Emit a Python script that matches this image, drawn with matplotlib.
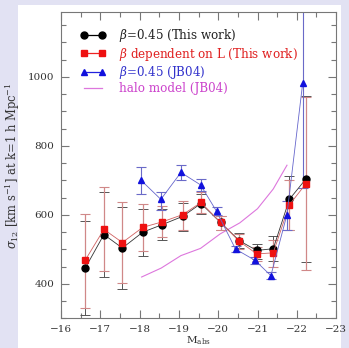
import matplotlib
matplotlib.use('Agg')
import matplotlib.pyplot as plt
from matplotlib.patches import Rectangle
from matplotlib.ticker import MultipleLocator

plt.rcParams['font.family'] = ['DejaVu Serif']
plt.rcParams['mathtext.fontset'] = 'dejavuserif'
plt.rcParams['axes.unicode_minus'] = True

# beta=0.45 (This work)
mag_bk = [-16.61, -17.09, -17.56, -18.08, -18.58, -19.10, -19.56, -20.06, -20.54, -20.98, -21.40, -21.81, -22.23]
sig_bk = [445, 543, 504, 550, 572, 596, 633, 578, 525, 497, 502, 645, 704]
up_bk = [582, 665, 623, 618, 617, 635, 662, 597, 548, 516, 540, 713, 945]
lo_bk = [310, 420, 385, 481, 527, 552, 602, 555, 504, 473, 465, 557, 463]

# beta dependent on L (This work)
sig_rd = [468, 558, 520, 564, 580, 601, 636, 578, 523, 487, 490, 629, 690]
up_rd = [604, 680, 638, 633, 625, 640, 665, 597, 546, 508, 528, 700, 943]
lo_rd = [331, 438, 403, 496, 535, 557, 605, 555, 502, 466, 448, 555, 439]

# beta=0.45 (JB04)
mag_bl = [-18.03, -18.54, -19.05, -19.55, -19.96, -20.44, -20.94, -21.34, -21.75, -22.15]
sig_bl = [701, 645, 723, 687, 610, 501, 468, 424, 601, 982]
up_bl = [740, 667, 745, 704, 623, 509, 477, 434, 640, 1400]
lo_bl = [660, 615, 700, 670, 601, 493, 459, 414, 557, 678]

# halo model (JB04)
mag_halo = [-18.05, -18.55, -19.05, -19.55, -20.05, -20.55, -21.0, -21.4, -21.75]
sig_halo = [420, 446, 482, 503, 545, 577, 618, 675, 744]

fig = plt.figure(figsize=(3.49, 3.48), dpi=100, facecolor='#e2e2f3')
fig.patches.append(Rectangle((0.052, 0.0), 0.925, 0.986, transform=fig.transFigure,
                             facecolor='white', edgecolor='none', zorder=-10))
ax = fig.add_axes([0.175, 0.085, 0.788, 0.8805])
ax.set_zorder(1)

def yerr(s, up, lo):
    return [[v - l for v, l in zip(s, lo)], [u - v for v, u in zip(s, up)]]

l4, = ax.plot(mag_halo, sig_halo, color='#dd77dd', lw=0.8, zorder=1)

ax.errorbar(mag_bk, sig_bk, yerr=yerr(sig_bk, up_bk, lo_bk), fmt='none',
            ecolor='#555555', elinewidth=0.7, capsize=3.5, capthick=0.7, zorder=2)
ax.errorbar(mag_bk, sig_rd, yerr=yerr(sig_rd, up_rd, lo_rd), fmt='none',
            ecolor='#d08888', elinewidth=0.9, capsize=3.5, capthick=0.8, zorder=2)
ax.errorbar(mag_bl, sig_bl, yerr=yerr(sig_bl, up_bl, lo_bl), fmt='none',
            ecolor='#6a6ac8', elinewidth=0.8, capsize=3.5, capthick=0.8, zorder=2)

l1, = ax.plot(mag_bk, sig_bk, color='#333333', lw=0.6, marker='o', ms=5,
              mfc='black', mec='black', zorder=3)
l2, = ax.plot(mag_bk, sig_rd, color='#d06060', lw=0.6, marker='s', ms=4.2,
              mfc='#ee1111', mec='#ee1111', zorder=4)
l3, = ax.plot(mag_bl, sig_bl, color='#6666cc', lw=0.6, marker='^', ms=4,
              mfc='#1111dd', mec='#1111dd', zorder=5)

leg = ax.legend([l1, l2, l3, l4],
                [r'$\beta$=0.45 (This work)', r'$\beta$ dependent on L (This work)',
                 r'$\beta$=0.45 (JB04)', 'halo model (JB04)'],
                loc='upper left', bbox_to_anchor=(0.03, 0.985), frameon=False,
                numpoints=2, handlelength=2.1, handletextpad=1.2, labelspacing=0.1,
                fontsize=8.6)
for txt, c in zip(leg.get_texts(), ['#222222', '#e02020', '#3333cc', '#cc44cc']):
    txt.set_color(c)
for h in leg.legend_handles:
    h.set_linewidth(0.9)
leg.legend_handles[0].set_color('black')
leg.legend_handles[1].set_color('#ee2222')
leg.legend_handles[2].set_color('#2222dd')

ax.set_xlim(-16, -23)
ax.set_ylim(300, 1188)
ax.xaxis.set_major_locator(MultipleLocator(1))
ax.xaxis.set_minor_locator(MultipleLocator(0.5))
ax.yaxis.set_major_locator(MultipleLocator(200))
ax.yaxis.set_minor_locator(MultipleLocator(50))
ax.tick_params(which='both', direction='in', top=True, right=True, colors='#777777',
               labelcolor='#333333', labelsize=7.5, pad=5)
ax.tick_params(which='major', length=6, width=0.8)
ax.tick_params(which='minor', length=3.5, width=0.8)
for sp in ax.spines.values():
    sp.set_color('#777777')
    sp.set_linewidth(0.8)

ax.set_xlabel(r'M$_{\rm abs}$', fontsize=7.5, color='#333333', labelpad=0)
ax.set_ylabel(r'$\sigma_{12}$ [km s$^{-1}$] at k=1 h Mpc$^{-1}$', fontsize=8.3,
              color='#333333', labelpad=4)

fig.savefig('out.png', dpi=100, facecolor=fig.get_facecolor())
